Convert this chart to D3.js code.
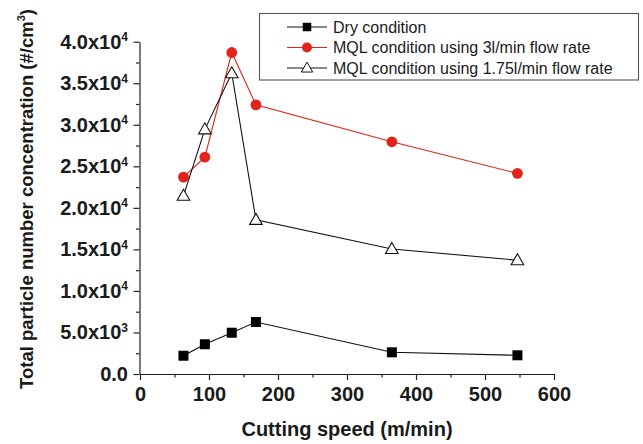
<!DOCTYPE html>
<html>
<head>
<meta charset="utf-8">
<script src="https://cdn.jsdelivr.net/npm/d3@7"></script>
<style>
  html, body { margin: 0; padding: 0; background: #fff; }
  svg { display: block; font-family: "Liberation Sans", Arial, Helvetica, sans-serif; }
</style>
</head>
<body>
<svg id="chart" width="643" height="444"></svg>
<script>
// ---- data ----
const cuttingSpeed = [63, 94, 133, 168, 365, 547];
const dryCondition = [2200, 3580, 4970, 6260, 2610, 2250];
const mql3 = [23700, 26100, 38700, 32400, 27950, 24150];
const mql175 = [21450, 29450, 36200, 18550, 15050, 13700];
const seriesNames = ["Dry condition", "MQL condition using 3l/min flow rate", "MQL condition using 1.75l/min flow rate"];
const xTicks = [0, 100, 200, 300, 400, 500, 600];
const yTicks = [0, 5000, 10000, 15000, 20000, 25000, 30000, 35000, 40000];
const yTickBase = ["0.0", "5.0x10", "1.0x10", "1.5x10", "2.0x10", "2.5x10", "3.0x10", "3.5x10", "4.0x10"];
const yTickExp = ["", "3", "4", "4", "4", "4", "4", "4", "4"];
const xTitle = "Cutting speed (m/min)";
const yTitle = "Total particle number concentration (#/cm";
const yTitleSup = "3";

// ---- layout ----
const svg = d3.select("#chart");
const x = d3.scaleLinear().domain([0, 600]).range([140, 554]);
const y = d3.scaleLinear().domain([0, 40000]).range([374, 41.7]);
const RED = "#e2231a";
const FONT = "'Liberation Sans', Arial, Helvetica, sans-serif";

// minor ticks
const xMinor = d3.range(50, 600, 100);
const yMinor = d3.range(2500, 40000, 5000);

svg.append("g").attr("transform", "translate(0,374)")
  .call(d3.axisBottom(x).tickValues(xMinor).tickSize(3.5).tickFormat(() => ""))
  .call(g => g.select(".domain").remove())
  .call(g => g.selectAll("line").attr("stroke", "#222").attr("stroke-width", 1.2));
svg.append("g").attr("transform", "translate(139.5,0)")
  .call(d3.axisLeft(y).tickValues(yMinor).tickSize(3.5).tickFormat(() => ""))
  .call(g => g.select(".domain").remove())
  .call(g => g.selectAll("line").attr("stroke", "#222").attr("stroke-width", 1.2));

// x axis
const gx = svg.append("g").attr("transform", "translate(0,374)")
  .call(d3.axisBottom(x).tickValues(xTicks).tickSize(6).tickPadding(7).tickSizeOuter(0).tickFormat(d3.format("d")));
gx.select(".domain").attr("stroke", "#222").attr("stroke-width", 1.2);
gx.selectAll("line").attr("stroke", "#222").attr("stroke-width", 1.2);
gx.selectAll("text").attr("font-family", FONT).attr("font-size", 20).attr("font-weight", "bold").attr("fill", "#1a1a1a");

// y axis
const gy = svg.append("g").attr("transform", "translate(139.5,0)")
  .call(d3.axisLeft(y).tickValues(yTicks).tickSize(6).tickPadding(5.5).tickSizeOuter(0).tickFormat(() => ""));
gy.select(".domain").attr("stroke", "#222").attr("stroke-width", 1.2);
gy.selectAll("line").attr("stroke", "#222").attr("stroke-width", 1.2);
gy.selectAll(".tick text").each(function(d, i) {
  const t = d3.select(this)
    .attr("font-family", FONT).attr("font-size", 20).attr("font-weight", "bold").attr("fill", "#1a1a1a");
  t.text(null);
  t.append("tspan").text(yTickBase[i]);
  if (yTickExp[i]) {
    t.append("tspan").attr("font-size", 12).attr("dy", -7.5).text(yTickExp[i]);
  }
});

// axis titles
svg.append("text")
  .attr("x", 347).attr("y", 436)
  .attr("text-anchor", "middle")
  .attr("font-family", FONT).attr("font-size", 20).attr("font-weight", "bold").attr("fill", "#1a1a1a")
  .text(xTitle);

const yt = svg.append("text")
  .attr("transform", "translate(32.5,199) rotate(-90)")
  .attr("text-anchor", "middle")
  .attr("font-family", FONT).attr("font-size", 18.5).attr("font-weight", "bold").attr("fill", "#1a1a1a");
yt.append("tspan").text(yTitle);
yt.append("tspan").attr("font-size", 11).attr("dy", -8).text(yTitleSup);
yt.append("tspan").attr("dy", 8).text(")");

// ---- series ----
const line = d3.line().x(d => x(d[0])).y(d => y(d[1]));
const triPath = "M0,-6.5 L6.3,4.5 L-6.3,4.5 Z";

function drawSeries(values, color, marker) {
  const pts = cuttingSpeed.map((s, i) => [s, values[i]]);
  svg.append("path").datum(pts)
    .attr("d", line).attr("fill", "none").attr("stroke", color).attr("stroke-width", 1.1);
  const g = svg.append("g");
  pts.forEach(p => marker(g, x(p[0]), y(p[1])));
}
const squareMarker = (g, cx, cy, s = 10) => g.append("rect")
  .attr("x", cx - s / 2).attr("y", cy - s / 2).attr("width", s).attr("height", s).attr("fill", "#000");
const circleMarker = (g, cx, cy, r = 5.4) => g.append("circle")
  .attr("cx", cx).attr("cy", cy).attr("r", r).attr("fill", RED);
const triMarker = (g, cx, cy, k = 1) => g.append("path")
  .attr("d", triPath).attr("transform", `translate(${cx},${cy}) scale(${k})`)
  .attr("fill", "#fff").attr("stroke", "#111").attr("stroke-width", 1.1);

drawSeries(dryCondition, "#111", squareMarker);
drawSeries(mql3, RED, circleMarker);
drawSeries(mql175, "#111", triMarker);

// ---- legend ----
const leg = svg.append("g");
leg.append("rect").attr("x", 259.5).attr("y", 13.5).attr("width", 379).attr("height", 66.5)
  .attr("fill", "#fff").attr("stroke", "#555").attr("stroke-width", 1.1);
const legColors = ["#111", RED, "#111"];
const legMarkers = [
  (g, cx, cy) => squareMarker(g, cx, cy, 8.5),
  (g, cx, cy) => circleMarker(g, cx, cy, 5),
  (g, cx, cy) => triMarker(g, cx, cy, 0.9)
];
const legRows = [27, 47.5, 68];
seriesNames.forEach((name, i) => {
  leg.append("line").attr("x1", 287).attr("x2", 327).attr("y1", legRows[i]).attr("y2", legRows[i])
    .attr("stroke", legColors[i]).attr("stroke-width", 1.1);
  legMarkers[i](leg, 307, legRows[i]);
  leg.append("text").attr("x", 333).attr("y", legRows[i] + 5.8)
    .attr("font-family", FONT).attr("font-size", 16).attr("fill", "#1a1a1a").text(name);
});
</script>
</body>
</html>
